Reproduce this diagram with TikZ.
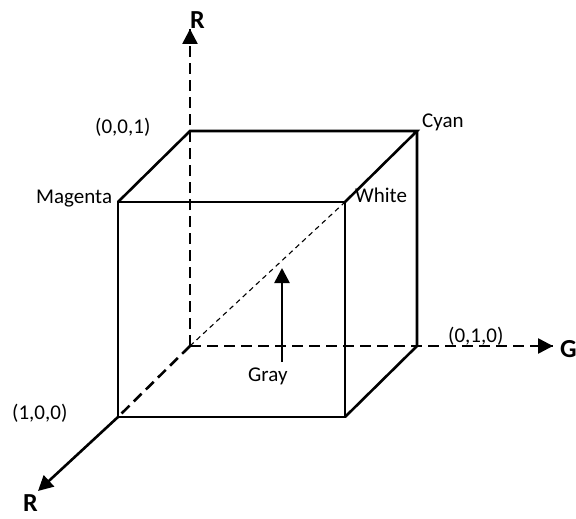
\documentclass[tikz,border=0pt]{standalone}
\usepackage{fontspec}
\setmainfont{Carlito}
\usetikzlibrary{arrows.meta,positioning}

\begin{document}
\begin{tikzpicture}[x=1pt, y=-1pt, >={Triangle[length=15pt,width=15pt]},
  edge/.style={line width=2.6pt},
  hidden/.style={line width=2.6pt, dash pattern=on 11pt off 6pt},
  diag/.style={line width=1.1pt, dash pattern=on 5pt off 4pt},
  lbl/.style={font=\fontsize{21}{24}\selectfont, inner sep=0pt, anchor=base west},
  axislbl/.style={font=\fontsize{26}{30}\selectfont\bfseries, inner sep=0pt, anchor=base west}]
\useasboundingbox (0,0) rectangle (576,519);
% cube corners
\coordinate (O) at (190,346);
\coordinate (B) at (190,131);
\coordinate (C) at (417,131);
\coordinate (G) at (417,346);
\coordinate (M) at (118,202);
\coordinate (W) at (345,202);
\coordinate (R) at (118,417);
\coordinate (Y) at (345,417);
% axis tips
\coordinate (btip) at (190,29);
\coordinate (gtip) at (553,346);
\coordinate (rtip) at (38,491);
\coordinate (graytip) at (282,268);
% hidden edges and axes
\draw[hidden] (O) -- (btip);
\draw[hidden] (O) -- (gtip);
\draw[hidden] (O) -- (R);
\draw[->, hidden] ([yshift=-8pt]btip) -- (btip);
\draw[->, hidden] ([xshift=-8pt]gtip) -- (gtip);
\draw[->, edge] (R) -- (rtip);
\draw[diag] (O) -- (W);
% visible edges
\draw[edge] (M) -- (W) -- (Y) -- (R) -- cycle;
\draw[edge] (M) -- (B) -- (C) -- (W);
\draw[edge] (C) -- (G) -- (Y);
% labels
\node[lbl] (blbl) at (95,133) {(0,0,1)};
\node[lbl] (mlbl) at (36,203) {Magenta};
\node[lbl] (clbl) at (422,128) {Cyan};
\node[lbl] (wlbl) at (355,202) {White};
\node[lbl] (glbl) at (448,342) {(0,1,0)};
\node[lbl] (rlbl) at (12,419) {(1,0,0)};
\node[lbl] (graylbl) at (248,381) {Gray};
\draw[->, edge] (graytip |- 0,362) -- (graytip);
\node[axislbl] (baxis) at (190,29) {R};
\node[axislbl] (gaxis) at (560,357) {G};
\node[axislbl] (raxis) at (23,511) {R};
\end{tikzpicture}
\end{document}
